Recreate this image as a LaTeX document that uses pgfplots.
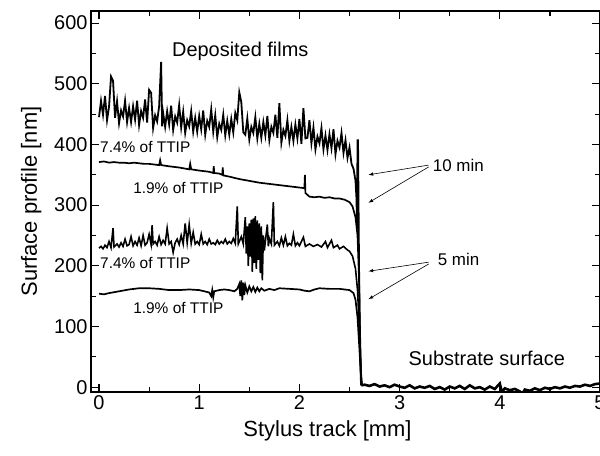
\documentclass[border=0pt]{standalone}
\usepackage{fontspec}
\setmainfont{Liberation Sans}
\usepackage{pgfplots}
\pgfplotsset{compat=1.18}

% profiles
\pgfplotstableread{
x y
0.00 445
0.02 472
0.04 449
0.06 480
0.08 440
0.10 462
0.12 512
0.14 505
0.16 444
0.18 471
0.20 435
0.22 456
0.24 446
0.26 472
0.28 437
0.30 460
0.32 437
0.34 463
0.36 441
0.38 472
0.40 432
0.42 455
0.44 444
0.46 474
0.48 436
0.50 490
0.52 485
0.54 427
0.56 448
0.58 438
0.60 463
0.62 536
0.63 430
0.64 452
0.66 429
0.68 455
0.70 433
0.72 464
0.74 424
0.76 446
0.78 436
0.80 465
0.82 428
0.84 454
0.86 419
0.88 440
0.90 430
0.92 455
0.94 421
0.96 444
0.98 421
1.00 447
1.02 425
1.04 456
1.06 416
1.08 439
1.10 429
1.12 458
1.14 421
1.16 448
1.18 412
1.20 434
1.22 424
1.24 449
1.26 415
1.28 439
1.30 416
1.32 442
1.34 420
1.36 452
1.38 440
1.40 486
1.42 470
1.44 420
1.46 416
1.48 443
1.50 408
1.52 429
1.54 419
1.56 445
1.58 410
1.60 434
1.62 411
1.64 437
1.66 415
1.68 447
1.70 407
1.72 429
1.74 419
1.76 449
1.78 411
1.80 468
1.82 403
1.84 424
1.86 414
1.88 440
1.90 406
1.92 429
1.94 406
1.96 433
1.98 410
2.00 442
2.02 401
2.04 460
2.06 410
2.08 411
2.10 440
2.12 402
2.14 428
2.16 392
2.18 413
2.20 402
2.22 427
2.24 392
2.26 415
2.28 391
2.30 417
2.32 394
2.34 425
2.36 384
2.38 406
2.40 395
2.42 419
2.44 386
2.46 407
2.48 378
2.50 395
2.52 368
2.54 360
2.56 340
2.57 310
2.575 260
2.58 407
2.585 407
2.595 200
2.605 60
2.615 3
}\filmA

\pgfplotstableread{
x y
0.00 371
0.05 372
0.10 370
0.15 371
0.20 370
0.25 370
0.30 369
0.35 370
0.40 369
0.45 368
0.50 368
0.55 367
0.60 366
0.61 374
0.62 366
0.70 364
0.80 362
0.90 359
0.91 368
0.92 359
1.00 357
1.05 356
1.10 355
1.14 353
1.145 364
1.15 353
1.20 352
1.23 350
1.235 362
1.24 349
1.30 347
1.40 343
1.50 340
1.60 337
1.70 335
1.80 333
1.90 331
2.00 329
2.05 328
2.055 350
2.06 320
2.10 314
2.15 313
2.20 314
2.25 312
2.30 313
2.35 311
2.40 311
2.45 309
2.50 305
2.53 298
2.56 280
2.58 250
2.595 180
2.605 90
2.615 20
2.622 2
}\filmB

\pgfplotstableread{
x y
0.00 229
0.02 232
0.04 228
0.06 234
0.08 230
0.10 240
0.12 230
0.14 262
0.15 231
0.18 236
0.20 231
0.22 238
0.24 232
0.26 244
0.28 233
0.30 235
0.32 248
0.34 233
0.36 240
0.38 234
0.40 246
0.42 233
0.44 250
0.46 234
0.48 238
0.50 252
0.52 235
0.53 267
0.54 236
0.56 240
0.58 234
0.60 248
0.62 235
0.64 242
0.66 236
0.68 262
0.70 236
0.72 240
0.74 222
0.76 238
0.78 244
0.80 235
0.82 250
0.84 236
0.86 270
0.88 238
0.90 268
0.92 237
0.94 255
0.96 236
0.98 240
1.00 235
1.02 252
1.04 236
1.06 240
1.08 235
1.10 244
1.12 236
1.14 238
1.16 235
1.18 242
1.20 236
1.22 240
1.24 237
1.26 244
1.28 236
1.30 240
1.32 237
1.34 245
1.36 237
1.38 298
1.39 236
1.42 248
1.44 236
1.46 280
1.47 220
1.48 265
1.49 200
1.50 270
1.51 215
1.52 276
1.53 190
1.54 278
1.55 205
1.56 282
1.57 195
1.58 275
1.59 210
1.60 270
1.61 188
1.62 265
1.63 176
1.64 250
1.65 225
1.66 240
1.68 268
1.69 232
1.70 245
1.72 236
1.74 305
1.75 234
1.78 240
1.80 233
1.82 246
1.84 234
1.86 248
1.88 233
1.90 237
1.92 234
1.94 252
1.96 233
1.98 238
2.00 233
2.04 247
2.06 232
2.10 236
2.14 232
2.18 235
2.22 231
2.26 240
2.28 230
2.32 242
2.34 230
2.38 234
2.40 228
2.44 232
2.48 226
2.50 224
2.53 216
2.56 195
2.58 160
2.60 90
2.615 25
2.625 2
}\filmC

\pgfplotstableread{
x y
0.00 154
0.05 153
0.10 155
0.20 158
0.30 161
0.40 163
0.50 163
0.60 162
0.70 160
0.80 160
0.90 161
1.00 160
1.05 158
1.10 156
1.12 150
1.13 160
1.14 148
1.15 158
1.20 160
1.25 161
1.30 160
1.35 158
1.38 162
1.40 170
1.41 150
1.42 176
1.43 143
1.44 172
1.45 152
1.46 168
1.48 156
1.50 166
1.52 158
1.54 165
1.56 157
1.58 164
1.60 158
1.62 163
1.65 159
1.70 162
1.75 160
1.80 163
1.90 162
2.00 161
2.05 159
2.10 158
2.15 161
2.20 163
2.30 162
2.40 162
2.50 160
2.54 155
2.56 144
2.58 115
2.60 60
2.615 15
2.625 2
}\filmD

\pgfplotstableread{
x y
2.62 3
2.65 4
2.70 2
2.75 5
2.80 1
2.85 3
2.90 0
2.95 4
3.00 1
3.05 -1
3.10 3
3.15 -2
3.20 1
3.25 -1
3.30 2
3.35 -3
3.40 0
3.45 -4
3.50 1
3.55 -2
3.60 2
3.65 -3
3.70 3
3.75 -2
3.80 0
3.85 -4
3.90 1
3.95 -3
4.00 6
4.02 -8
4.05 -2
4.10 -5
4.15 -3
4.20 -7
4.22 -12
4.25 -4
4.30 -6
4.35 -2
4.40 -5
4.45 -1
4.50 -3
4.55 0
4.60 -2
4.65 1
4.70 -1
4.75 2
4.80 1
4.85 4
4.90 2
4.95 5
5.00 6
}\substrate

\begin{document}
\begin{tikzpicture}
\begin{axis}[
    name=ax,
    scale only axis,
    width=509bp,
    height=381bp,
    xmin=-0.08, xmax=5,
    ymin=-8, ymax=620,
    xtick={0,1,2,3,4,5},
    minor xtick={0.5,1.5,2.5,3.5,4.5},
    ytick={0,100,...,600},
    minor ytick={50,150,250,350,450,550},
    tick align=inside,
    major tick length=8bp,
    minor tick length=5bp,
    axis line style={line width=1.4pt},
    every tick/.style={line width=1.2pt, black},
    tick label style={font=\fontsize{20}{22}\selectfont},
    /pgf/number format/assume math mode=true,
    xlabel={Stylus track [mm]},
    ylabel={Surface profile [nm]},
    label style={font=\fontsize{22}{24}\selectfont},
    xlabel style={yshift=-4bp, xshift=-18bp},
    ylabel style={yshift=6bp},
    clip=true,
]
\addplot[black, line width=1.8pt] table {\filmA};
\addplot[black, line width=1.7pt] table {\filmB};
\addplot[black, line width=1.6pt] table {\filmC};
\addplot[black, line width=1.7pt] table {\filmD};
\addplot[black, line width=2.6pt] table {\substrate};

\node[font=\fontsize{20}{22}\selectfont] at (axis cs:1.41,553) {Deposited films};
\node[font=\fontsize{15.5}{17}\selectfont, anchor=west, inner sep=0pt] at (axis cs:0.01,396) {7.4\% of TTIP};
\node[font=\fontsize{15.5}{17}\selectfont, anchor=west, inner sep=0pt] at (axis cs:0.34,328) {1.9\% of TTIP};
\node[font=\fontsize{15.5}{17}\selectfont, anchor=west, inner sep=0pt] at (axis cs:0.01,205) {7.4\% of TTIP};
\node[font=\fontsize{15.5}{17}\selectfont, anchor=west, inner sep=0pt] at (axis cs:0.34,130) {1.9\% of TTIP};
\node[font=\fontsize{17}{20}\selectfont, anchor=west, inner sep=0pt] at (axis cs:3.33,366) {10 min};
\node[font=\fontsize{17}{20}\selectfont, anchor=west, inner sep=0pt] at (axis cs:3.38,210) {5 min};
\node[font=\fontsize{20}{22}\selectfont] at (axis cs:3.87,48) {Substrate surface};

\draw[-latex, line width=0.6pt] (axis cs:3.29,366) -- (axis cs:2.69,350);
\draw[-latex, line width=0.6pt] (axis cs:3.29,363) -- (axis cs:2.69,304);
\draw[-latex, line width=0.6pt] (axis cs:3.29,206) -- (axis cs:2.69,191);
\draw[-latex, line width=0.6pt] (axis cs:3.29,203) -- (axis cs:2.69,145);
\end{axis}
\pgfresetboundingbox
\path ([shift={(-91bp,-64bp)}]ax.south west) rectangle ([shift={(0bp,11bp)}]ax.north east);
\end{tikzpicture}
\end{document}
